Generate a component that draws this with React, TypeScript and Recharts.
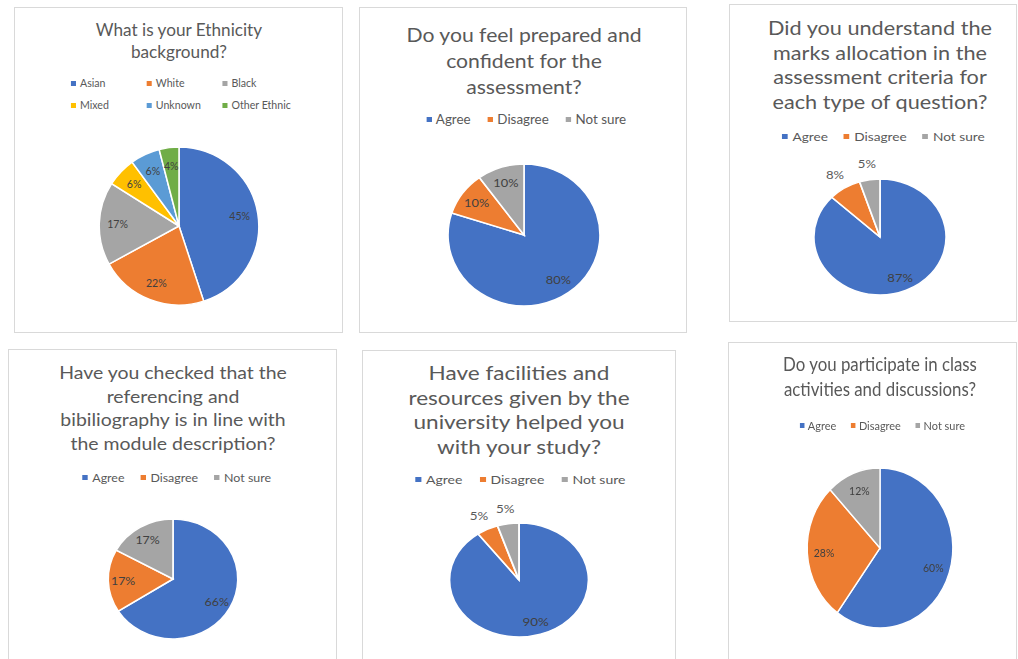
import React from "react";
import { Cell, Legend, Pie, PieChart } from "recharts";

const FONT = "Lato, 'Open Sans', sans-serif";

// survey answers, percent
const ETHNICITY_NAMES = ["Asian", "White", "Black", "Mixed", "Unknown", "Other Ethnic"];
const ETHNICITY_VALUES = [45, 22, 17, 6, 6, 4];
const ANSWER_NAMES = ["Agree", "Disagree", "Not sure"];
const PREPARED_VALUES = [80, 10, 10];
const MARKS_VALUES = [87, 8, 5];
const REFERENCING_VALUES = [66, 17, 17];
const FACILITIES_VALUES = [90, 5, 5];
const PARTICIPATE_VALUES = [60, 28, 12];

const ETHNICITY_COLORS = ["#4472C4", "#ED7D31", "#A5A5A5", "#FFC000", "#5B9BD5", "#70AD47"];
const ANSWER_COLORS = ["#4472C4", "#ED7D31", "#A5A5A5"];

type PanelProps = {
  title: string[];
  names: string[];
  values: number[];
  colors: string[];
  left: number;
  top: number;
  width: number;
  height: number;
  sx: number; // the screenshots were stretched a bit sideways
  titleX: number;
  titleTop: number;
  titleSize: number;
  titleLine: number;
  legendTop: number;
  legendSize: number;
  legendGap: number;
  legendShift?: number;
  legendCols?: number;
  legendColWidth?: number;
  legendLeft?: number;
  cx: number;
  cy: number;
  r: number;
  labelSize: number;
  outsideBelow?: number;
};

const RAD = Math.PI / 180;

function makeLabel(p: PanelProps) {
  return (props: any) => {
    const { cx, cy, midAngle, outerRadius, value } = props;
    const outside = p.outsideBelow !== undefined && value <= p.outsideBelow;
    const rr = outerRadius * (outside ? 1.27 : 0.77);
    const x = cx + rr * Math.cos(-midAngle * RAD);
    const y = cy + rr * Math.sin(-midAngle * RAD);
    return (
      <text
        x={x}
        y={y}
        fill={outside ? "#595959" : "#404040"}
        fontSize={p.labelSize}
        fontFamily={FONT}
        textAnchor="middle"
        dominantBaseline="central"
      >
        {value}%
      </text>
    );
  };
}

function PanelLegend({ payload, p }: { payload?: any[]; p: PanelProps }) {
  const items = [...(payload || [])].sort(
    (a: any, b: any) => p.names.indexOf(a.value) - p.names.indexOf(b.value)
  );
  const grid = p.legendCols !== undefined;
  return (
    <div
      style={{
        display: grid ? "grid" : "flex",
        gridTemplateColumns: grid ? `repeat(${p.legendCols}, ${p.legendColWidth}px)` : undefined,
        justifyContent: grid ? "start" : "center",
        columnGap: grid ? 0 : p.legendGap,
        rowGap: grid ? p.legendGap : 0,
        paddingLeft: grid ? p.legendLeft : 2 * (p.legendShift || 0),
        fontFamily: FONT,
        fontSize: p.legendSize,
        color: "#595959",
      }}
    >
      {items.map((it: any) => (
        <div key={it.value} style={{ display: "flex", alignItems: "center", whiteSpace: "nowrap" }}>
          <span style={{ width: 5, height: 5, background: it.color, marginRight: 4, display: "inline-block" }} />
          {it.value}
        </div>
      ))}
    </div>
  );
}

function PiePanel(p: PanelProps) {
  const data = p.names.map((name, i) => ({ name, value: p.values[i] }));
  return (
    <div
      style={{
        position: "absolute",
        left: p.left,
        top: p.top,
        width: p.width,
        height: p.height,
        border: "1px solid #d9d9d9",
        boxSizing: "border-box",
        background: "#fff",
        overflow: "hidden",
      }}
    >
      <div
        style={{
          position: "absolute",
          left: 0,
          top: 0,
          width: p.width - 2,
          height: p.height - 2,
          transform: `scaleX(${p.sx})`,
          transformOrigin: `${p.cx}px 0px`,
        }}
      >
        <div
          style={{
            position: "absolute",
            left: p.titleX - 200,
            width: 400,
            top: p.titleTop,
            textAlign: "center",
            fontFamily: FONT,
            fontSize: p.titleSize,
            lineHeight: `${p.titleLine}px`,
            color: "#595959",
          }}
        >
          {p.title.map((line) => (
            <div key={line}>{line}</div>
          ))}
        </div>
        <div style={{ position: "absolute", left: 0, top: 0 }}>
          <PieChart width={p.width - 2} height={p.height - 2} margin={{ top: 0, right: 0, bottom: 0, left: 0 }}>
            <Legend
              verticalAlign="middle"
              layout="horizontal"
              content={(lp: any) => <PanelLegend payload={lp.payload} p={p} />}
              wrapperStyle={{ top: p.legendTop, left: 0, width: p.width - 2 }}
            />
            <Pie
              data={data}
              dataKey="value"
              nameKey="name"
              cx={p.cx}
              cy={p.cy}
              outerRadius={p.r}
              startAngle={90}
              endAngle={-270}
              stroke="#ffffff"
              strokeWidth={1.5}
              label={makeLabel(p)}
              labelLine={false}
              isAnimationActive={false}
            >
              {data.map((d, i) => (
                <Cell key={d.name} fill={p.colors[i]} />
              ))}
            </Pie>
          </PieChart>
        </div>
      </div>
    </div>
  );
}

export default function App() {
  return (
    <div style={{ position: "absolute", left: 0, top: 0, width: 1018, height: 659, overflow: "hidden", background: "#fff" }}>
      <PiePanel
        title={["What is your Ethnicity", "background?"]}
        names={ETHNICITY_NAMES}
        values={ETHNICITY_VALUES}
        colors={ETHNICITY_COLORS}
        left={14} top={7} width={329} height={326} sx={1.01}
        titleX={164} titleTop={11} titleSize={17} titleLine={22}
        legendTop={69} legendSize={10.5} legendGap={10}
        legendCols={3} legendColWidth={75} legendLeft={57}
        cx={164} cy={218} r={79} labelSize={10.5}
      />
      <PiePanel
        title={["Do you feel prepared and", "confident for the", "assessment?"]}
        names={ANSWER_NAMES}
        values={PREPARED_VALUES}
        colors={ANSWER_COLORS}
        left={359} top={7} width={328} height={326} sx={1.07}
        titleX={164} titleTop={13} titleSize={19.8} titleLine={26}
        legendTop={104} legendSize={12.5} legendGap={16} legendShift={3}
        cx={164} cy={227} r={71} labelSize={12}
      />
      <PiePanel
        title={["Did you understand the", "marks allocation in the", "assessment criteria for", "each type of question?"]}
        names={ANSWER_NAMES}
        values={MARKS_VALUES}
        colors={ANSWER_COLORS}
        left={729} top={4} width={288} height={318} sx={1.14}
        titleX={150} titleTop={11} titleSize={19} titleLine={24.5}
        legendTop={124} legendSize={12} legendGap={14} legendShift={10}
        cx={150} cy={232} r={58} labelSize={11.5} outsideBelow={8}
      />
      <PiePanel
        title={["Have you checked that the", "referencing and", "bibiliography is in line with", "the module description?"]}
        names={ANSWER_NAMES}
        values={REFERENCING_VALUES}
        colors={ANSWER_COLORS}
        left={8} top={349} width={329} height={316} sx={1.08}
        titleX={164} titleTop={11} titleSize={18} titleLine={23.7}
        legendTop={121} legendSize={11.5} legendGap={15} legendShift={4}
        cx={164} cy={229} r={60} labelSize={11.5}
      />
      <PiePanel
        title={["Have facilities and", "resources given by the", "university helped you", "with your study?"]}
        names={ANSWER_NAMES}
        values={FACILITIES_VALUES}
        colors={ANSWER_COLORS}
        left={362} top={350} width={314} height={316} sx={1.22}
        titleX={156} titleTop={10} titleSize={18.5} titleLine={24.5}
        legendTop={122} legendSize={11.5} legendGap={14} legendShift={1}
        cx={156} cy={229} r={57} labelSize={11} outsideBelow={5}
      />
      <PiePanel
        title={["Do you participate in class", "activities and discussions?"]}
        names={ANSWER_NAMES}
        values={PARTICIPATE_VALUES}
        colors={ANSWER_COLORS}
        left={728} top={342} width={289} height={324} sx={0.91}
        titleX={151} titleTop={9} titleSize={18.5} titleLine={25}
        legendTop={75} legendSize={12} legendGap={16} legendShift={10}
        cx={151} cy={205} r={80} labelSize={11.5}
      />
    </div>
  );
}
